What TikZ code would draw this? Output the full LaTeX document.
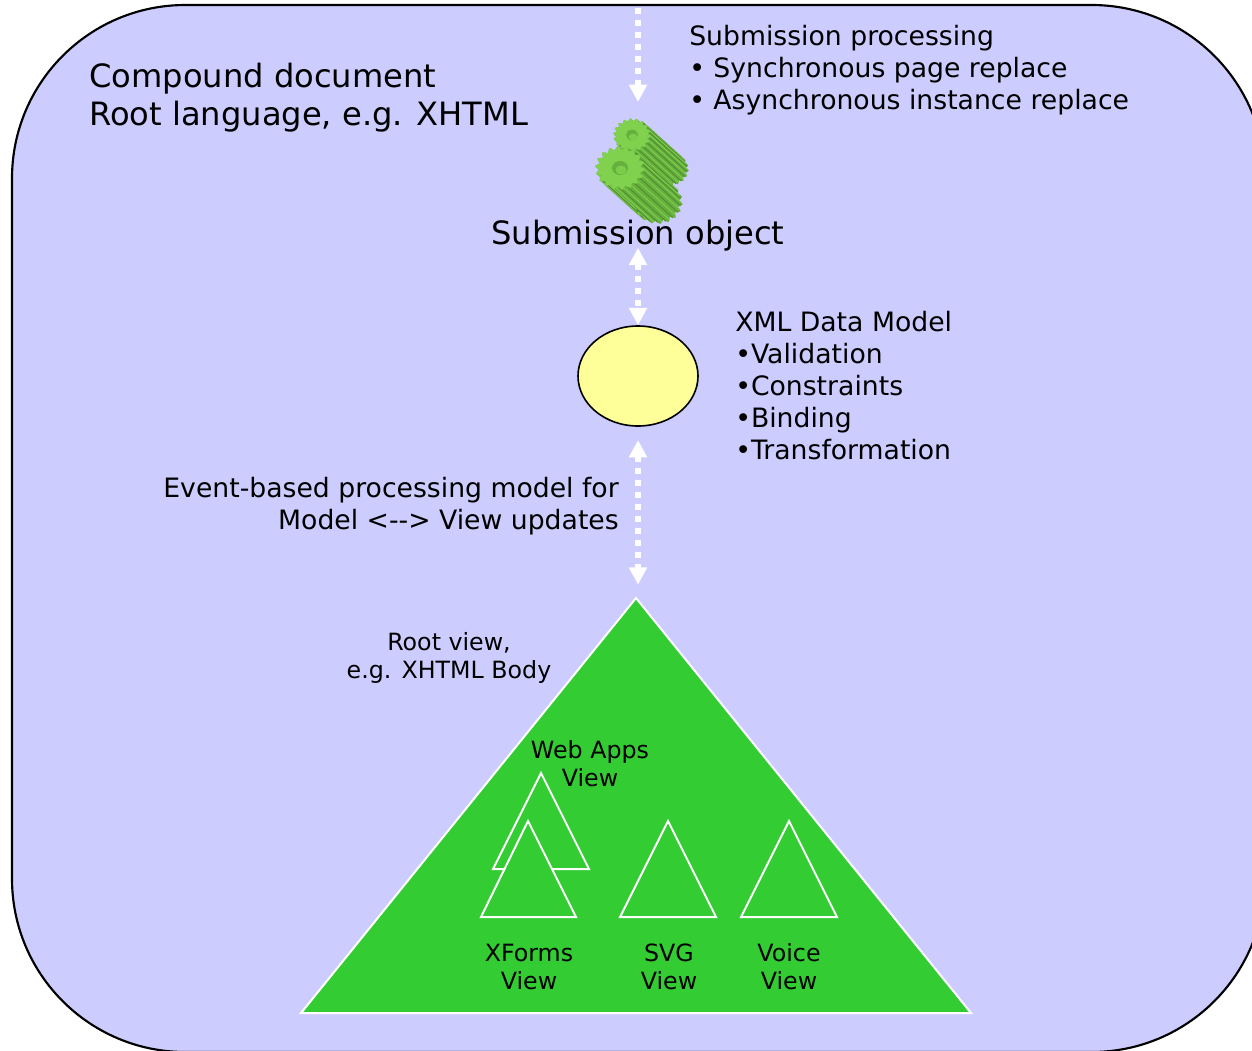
\documentclass[tikz,border=0pt]{standalone}
\usepackage{fontspec}
\setmainfont{DejaVu Sans}
\usetikzlibrary{arrows.meta,shapes.geometric}
\definecolor{docblue}{HTML}{CCCCFF}
\definecolor{modelyellow}{HTML}{FFFF99}
\definecolor{viewgreen}{HTML}{33CC33}
\definecolor{gearlight}{HTML}{80D24E}
\definecolor{geardark}{HTML}{66B03E}
\tikzset{
  flow/.style={white,line width=4.3pt,dash pattern=on 4.5pt off 4.5pt},
  tip/.style={-{Triangle[width=13pt,length=13pt]}},
  twotip/.style={{Triangle[width=13pt,length=13pt]}-{Triangle[width=13pt,length=13pt]}},
  bigtext/.style={inner sep=0pt,font=\fontsize{24.1}{28.5}\selectfont},
  bodytext/.style={inner sep=0pt,font=\fontsize{20}{24}\selectfont},
  smalltext/.style={inner sep=0pt,align=center,font=\fontsize{17.8}{21}\selectfont},
  viewtri/.style={draw=white,line width=1.5pt,fill=viewgreen,line join=miter}
}
\newcommand{\gearoutline}[3]{plot[samples at={0,5,...,360},variable=\t]
  ({#1+#3*(0.91+0.09*sin(18*\t))*cos(\t)},{#2+0.88*#3*(0.91+0.09*sin(18*\t))*sin(\t)}) -- cycle}
\newcommand{\drawgear}[3]{
  \foreach \s in {38,37,...,0} {
    \fill [geardark] \gearoutline{#1+\s}{#2+0.9*\s}{#3};
  }
  \foreach \a in {-50,-30,...,150} {
    \draw [geardark!80!black,line width=0.7pt] ({#1+0.92*#3*cos(\a)},{#2+0.81*#3*sin(\a)}) -- ++(38,34.2);
    \draw [gearlight,line width=0.6pt] ({#1+0.92*#3*cos(\a+10)},{#2+0.81*#3*sin(\a+10)}) -- ++(38,34.2);
  }
  \fill [gearlight] \gearoutline{#1}{#2}{#3};
  \fill [geardark] (#1,#2) ellipse ({0.32*#3} and {0.28*#3});
  \fill [gearlight!85!geardark] (#1+1,#2+2) ellipse ({0.22*#3} and {0.18*#3});
}
\begin{document}
\begin{tikzpicture}[x=0.75pt,y=-0.75pt]
  \useasboundingbox (0,0) rectangle (1252,1050);
  \clip (0,0) rectangle (1252,1050);
  %draw document box
  \draw [fill=docblue,line width=1.6pt,rounded corners=130pt] (12,5) rectangle (1265,1052);
  %draw gears
  \drawgear{632}{135}{19}
  \drawgear{620}{168}{25}
  %draw texts and model
  \node [bodytext,align=left,anchor=west] (procnote) at (689,70)
    {Submission processing\\• Synchronous page replace\\• Asynchronous instance replace};
  \node [bigtext,align=left,anchor=west] (rootnote) at (89,98)
    {Compound document\\Root language, e.g. XHTML};
  \node [bigtext,anchor=center] (subobj) at (638,236) {Submission object};
  \node [draw=black,line width=1.2pt,fill=modelyellow,ellipse,minimum width=90pt,minimum height=75pt,inner sep=0pt] (model) at (638,376) {};
  \node [bodytext,align=left,anchor=west] (modelnote) at (735,386)
    {XML Data Model\\•Validation\\•Constraints\\•Binding\\•Transformation};
  \node [bodytext,align=right,anchor=east] (eventnote) at (619,506)
    {Event-based processing model for\\Model <{-}{-}> View updates};
  %draw root view
  \coordinate (rootapex) at (636,598);
  \draw [viewtri] (rootapex) -- (971,1013) -- (301,1013) -- cycle;
  \node [smalltext] (rootlabel) at (449,658) {Root view,\\e.g. XHTML Body};
  %draw inner views
  \draw [viewtri] (541,773) -- (589,869) -- (493,869) -- cycle;
  \draw [viewtri] (528,821) -- (576,917) -- (481,917) -- cycle;
  \draw [viewtri] (668,821) -- (716,917) -- (620,917) -- cycle;
  \draw [viewtri] (789,821) -- (837,917) -- (741,917) -- cycle;
  \node [smalltext] (webapps) at (590,764) {Web Apps\\View};
  \node [smalltext] (xforms) at (529,967) {XForms\\View};
  \node [smalltext] (svg) at (669,967) {SVG\\View};
  \node [smalltext] (voice) at (789,967) {Voice\\View};
  %draw flows
  \coordinate (subin) at (638,8);
  \coordinate (gearin) at (638,102);
  \draw [flow,tip] (subin) -- (gearin);
  \draw [flow,twotip,shorten <=-3pt] (subobj.south) -- (model.north);
  \draw [flow,twotip,shorten <=10pt,shorten >=10pt] (model.south) -- (rootapex -| model.south);
\end{tikzpicture}
\end{document}
